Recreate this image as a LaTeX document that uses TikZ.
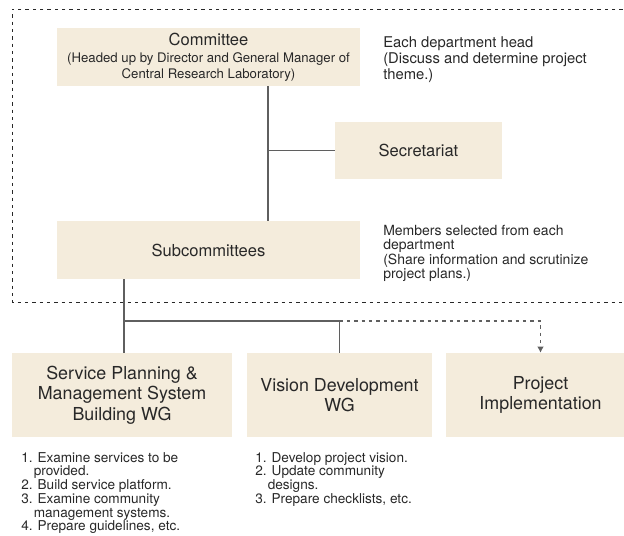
\documentclass[tikz,border=0pt]{standalone}
\usepackage{fontspec}
\setmainfont{TeX Gyre Heros}
\usetikzlibrary{arrows.meta}
\definecolor{boxfill}{RGB}{244,236,220}
\definecolor{txt}{RGB}{40,40,40}
\definecolor{lin}{RGB}{95,95,95}
\newcommand{\bigfont}{\fontsize{12.4pt}{14pt}\selectfont}
\newcommand{\subfont}{\fontsize{9.9pt}{12pt}\selectfont}
\newcommand{\wgfont}{\fontsize{13.4pt}{15.4pt}\selectfont}
\newcommand{\noteafont}{\fontsize{11.1pt}{12pt}\selectfont}
\newcommand{\notebfont}{\fontsize{10.5pt}{10.75pt}\selectfont}
\newcommand{\listfont}{\fontsize{10.2pt}{10.3pt}\selectfont}
\begin{document}
\begin{tikzpicture}[x=0.75pt,y=-0.75pt,
  box/.style={fill=boxfill, inner sep=0pt, align=center, text=txt},
  boxwh/.style 2 args={minimum width=#1*0.75pt, minimum height=#2*0.75pt},
  conn/.style={draw=lin, line width=0.9pt},
  dconn/.style={draw=lin, line width=0.8pt, dash pattern=on 2.6pt off 2.9pt},
  frame/.style={draw=txt, line width=0.6pt, dash pattern=on 2.6pt off 2.9pt},
  note/.style={inner sep=0pt, align=left, text=txt, anchor=north west}]
\useasboundingbox (0,0) rectangle (624,535);
\clip (0,0) rectangle (624,535);

% dashed frame (open on the right)
\coordinate (fr1) at (630,9);
\coordinate (fr2) at (12,9);
\coordinate (fr3) at (12,302);
\coordinate (fr4) at (630,302);
\draw[frame] (fr1) -- (fr2) -- (fr3) -- (fr4);

% boxes
\node[box, boxwh={303}{58}, font=\subfont] (committee) at (208.5,57)
  {{\bigfont Committee}\\[0.6pt](Headed up by Director and General Manager of\\Central Research Laboratory)};
\node[box, boxwh={167}{57}, font=\bigfont] (secretariat) at (418.5,150.5) {Secretariat};
\node[box, boxwh={303}{58}, font=\bigfont] (sub) at (208.5,250) {Subcommittees};
\node[box, boxwh={220}{84}, font=\wgfont] (wg1) at (122,395)
  {Service Planning \&\\Management System\\Building WG};
\node[box, boxwh={185}{84}, font=\wgfont] (wg2) at (339.5,395)
  {Vision Development\\WG};
\node[box, boxwh={189}{84}, font=\wgfont] (wg3) at (540.5,395)
  {Project\\Implementation};

% notes
\node[note, font=\noteafont] (notea) at (383,36.5)
  {Each department head\\(Discuss and determine project\\theme.)};
\node[note, font=\notebfont] (noteb) at (383,225)
  {Members selected from each\\department\\(Share information and scrutinize\\project plans.)};
\node[note, font=\listfont] (list1) at (21,452)
  {1. Examine services to be\\\hspace*{9.4pt}provided.\\2. Build service platform.\\3. Examine community\\\hspace*{9.4pt}management systems.\\4. Prepare guidelines, etc.};
\node[note, font=\listfont] (list2) at (255,452)
  {1. Develop project vision.\\2. Update community\\\hspace*{9.4pt}designs.\\3. Prepare checklists, etc.};

% connectors
\coordinate (xc) at (268,0);
\coordinate (xs) at (124,0);
\coordinate (bus) at (124,321);
\draw[conn] (committee.south -| xc) -- (sub.north -| xc);
\draw[conn] (secretariat.west -| xc) -- (secretariat.west);
\draw[conn] (sub.south -| xs) -- (wg1.north -| xs);
\draw[conn] (bus) -- (bus -| wg2.north) -- (wg2.north);
\draw[dconn, -{Latex[length=4.6pt,width=5pt]}] (bus -| wg2.north) -- (bus -| wg3.north) -- (wg3.north);
\end{tikzpicture}
\end{document}
